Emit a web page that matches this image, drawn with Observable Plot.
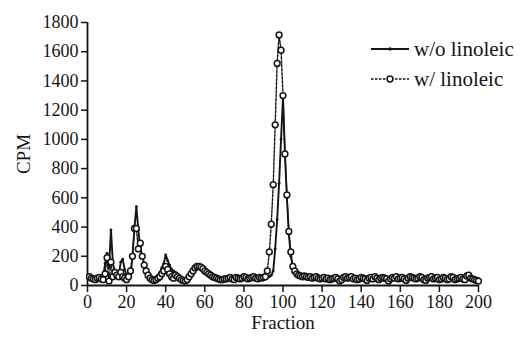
<!DOCTYPE html>
<html>
<head>
<meta charset="utf-8">
<script src="https://cdn.jsdelivr.net/npm/d3@7"></script>
<script src="https://cdn.jsdelivr.net/npm/@observablehq/plot@0.6"></script>
<style>
  html, body { margin: 0; padding: 0; background: #fff; }
  #wrap { position: relative; width: 524px; height: 347px; }
  #legend { position: absolute; left: 0; top: 0; }
  #wrap svg, #wrap svg text { font-family: "Liberation Serif", "Times New Roman", Times, "DejaVu Serif", serif !important; }
</style>
</head>
<body>
<div id="wrap"></div>
<script>
// Fractions 1..200
const fractions = d3.range(1, 201);

// w/o linoleic (solid line, small dots)
const withoutLinoleic = [
  50,45,40,45,40,50,45,60,150,220,
  120,380,150,100,80,70,160,180,110,70,
  60,60,200,390,540,380,250,200,150,110,
  80,60,50,40,50,70,90,120,150,210,
  170,140,110,100,90,80,60,50,40,40,
  50,60,80,100,110,120,130,130,120,110,
  100,90,80,70,60,55,50,45,40,45,
  50,45,40,50,55,45,40,50,60,50,
  45,55,50,45,50,55,60,50,45,50,
  50,55,60,70,100,250,450,700,1000,1290,
  900,600,350,200,130,90,80,70,60,60,
  55,60,55,50,50,45,50,55,45,40,
  50,45,40,50,55,45,40,35,40,50,
  45,50,55,45,40,50,45,55,50,45,
  40,35,45,50,40,45,55,50,40,45,
  50,45,40,35,45,50,55,45,40,45,
  50,40,45,50,55,45,40,45,50,45,
  40,35,45,50,55,45,40,50,45,40,
  45,50,40,35,45,50,45,40,50,45,
  40,45,50,40,45,50,45,40,35,45
];

// w/ linoleic (dashed line, open circles)
const withLinoleic = [
  60,50,45,40,50,55,45,40,80,190,
  30,160,60,90,70,60,90,60,50,40,
  60,100,200,390,390,250,290,200,140,100,
  70,50,40,35,40,50,60,80,100,130,
  110,80,60,50,70,60,50,40,35,30,
  40,60,80,100,120,130,130,125,115,100,
  90,80,70,60,55,50,45,40,40,45,
  45,50,55,45,40,55,50,45,50,60,
  55,45,50,55,60,50,45,55,50,55,
  60,100,230,420,690,1100,1520,1715,1610,1300,
  900,620,370,230,130,100,80,70,65,60,
  65,60,55,60,50,55,60,50,45,50,
  55,45,50,40,45,50,55,45,30,40,
  55,60,50,55,60,45,50,40,45,55,
  50,45,35,50,55,45,60,50,40,50,
  55,50,45,30,45,55,50,60,45,50,
  55,45,35,50,60,55,50,45,50,60,
  55,40,35,50,55,60,45,50,55,40,
  45,55,50,40,45,60,55,40,45,50,
  55,45,40,65,70,50,45,40,35,30
];

const xTicks = d3.range(0, 201, 20);
const yTicks = d3.range(0, 1801, 200);
const seriesNames = ["w/o linoleic", "w/ linoleic"];

const dataWithout = fractions.map((f, i) => ({fraction: f, cpm: withoutLinoleic[i]}));
const dataWith = fractions.map((f, i) => ({fraction: f, cpm: withLinoleic[i]}));

const ink = "#151515";
const serif = "'Liberation Serif', 'Times New Roman', Times, 'DejaVu Serif', serif";

const chart = Plot.plot({
  width: 524,
  height: 347,
  marginLeft: 87,
  marginRight: 46,
  marginTop: 22,
  marginBottom: 62,
  style: { fontFamily: serif, fontSize: "18px", color: ink, background: "#fff" },
  x: { domain: [0, 200] },
  y: { domain: [0, 1800] },
  marks: [
    Plot.axisX({ ticks: xTicks, tickSize: 7, tickPadding: 3, tickFormat: d => `${d}`, label: null, fontSize: 18, stroke: ink, strokeWidth: 1.5 }),
    Plot.axisX({ ticks: [], label: "Fraction", labelAnchor: "center", labelArrow: "none", labelOffset: 43, fontSize: 19 }),
    Plot.axisY({ ticks: yTicks, tickSize: 6, tickPadding: 3, tickFormat: d => `${d}`, label: null, fontSize: 18, stroke: ink, strokeWidth: 1.5 }),
    Plot.axisY({ ticks: [], label: "CPM", labelAnchor: "center", labelArrow: "none", labelOffset: 71, fontSize: 19 }),
    Plot.ruleX([0], { stroke: ink, strokeWidth: 1.8 }),
    Plot.ruleY([0], { stroke: ink, strokeWidth: 1.8 }),
    Plot.line(dataWith, { x: "fraction", y: "cpm", stroke: ink, strokeWidth: 1.4, strokeDasharray: "2.5,1.5" }),
    Plot.line(dataWithout, { x: "fraction", y: "cpm", stroke: ink, strokeWidth: 1.9 }),
    Plot.dot(dataWithout, { x: "fraction", y: "cpm", r: 1.4, fill: ink }),
    Plot.dot(dataWith, { x: "fraction", y: "cpm", r: 2.9, fill: "#fff", stroke: ink, strokeWidth: 1.5 })
  ]
});

const wrap = document.getElementById("wrap");
wrap.appendChild(chart);

// Legend overlay
const ns = "http://www.w3.org/2000/svg";
const leg = document.createElementNS(ns, "svg");
leg.setAttribute("id", "legend");
leg.setAttribute("width", 524);
leg.setAttribute("height", 347);
const rows = [
  { name: seriesNames[0], y: 49, dash: null, circle: false },
  { name: seriesNames[1], y: 79, dash: "2.5,1.5", circle: true }
];
rows.forEach(r => {
  const ln = document.createElementNS(ns, "line");
  ln.setAttribute("x1", 371); ln.setAttribute("x2", 409);
  ln.setAttribute("y1", r.y); ln.setAttribute("y2", r.y);
  ln.setAttribute("stroke", ink);
  ln.setAttribute("stroke-width", r.circle ? 1.4 : 1.9);
  if (r.dash) ln.setAttribute("stroke-dasharray", r.dash);
  leg.appendChild(ln);
  const c = document.createElementNS(ns, "circle");
  c.setAttribute("cx", 390); c.setAttribute("cy", r.y);
  c.setAttribute("r", r.circle ? 2.9 : 1.4);
  c.setAttribute("fill", r.circle ? "#fff" : ink);
  c.setAttribute("stroke", ink);
  c.setAttribute("stroke-width", r.circle ? 1.5 : 0.5);
  leg.appendChild(c);
  const t = document.createElementNS(ns, "text");
  t.setAttribute("x", 414); t.setAttribute("y", r.y);
  t.setAttribute("dy", "0.35em");
  t.setAttribute("font-size", 21);
  t.setAttribute("fill", ink);
  t.textContent = r.name;
  leg.appendChild(t);
});
wrap.appendChild(leg);
</script>
</body>
</html>
